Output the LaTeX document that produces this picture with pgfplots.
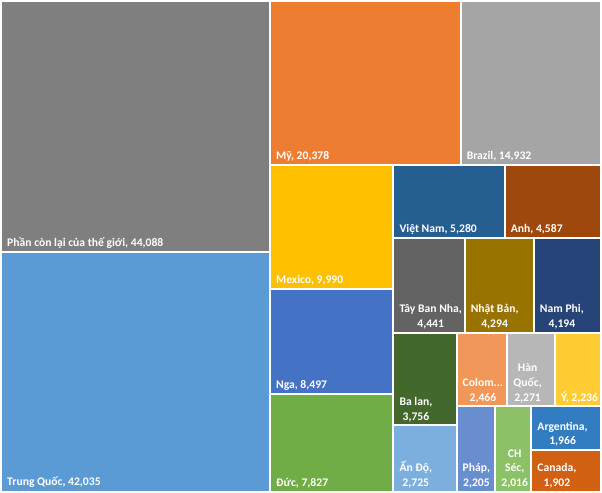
\documentclass[border=0pt]{standalone}
\usepackage{pgfplots}
\pgfplotsset{compat=1.18}
\usepackage{fontspec}
\setmainfont{Carlito}
\definecolor{cPhan}{HTML}{7F7F7F}
\definecolor{cTQ}{HTML}{5B9BD5}
\definecolor{cMy}{HTML}{ED7D31}
\definecolor{cBrazil}{HTML}{A5A5A5}
\definecolor{cMexico}{HTML}{FFC000}
\definecolor{cNga}{HTML}{4472C4}
\definecolor{cDuc}{HTML}{70AD47}
\definecolor{cVN}{HTML}{255E91}
\definecolor{cAnh}{HTML}{9E480E}
\definecolor{cTBN}{HTML}{636363}
\definecolor{cNhat}{HTML}{997300}
\definecolor{cNamPhi}{HTML}{264478}
\definecolor{cBaLan}{HTML}{43682B}
\definecolor{cAnDo}{HTML}{7CAFDD}
\definecolor{cColom}{HTML}{F1975A}
\definecolor{cHan}{HTML}{B7B7B7}
\definecolor{cY}{HTML}{FFCD33}
\definecolor{cPhap}{HTML}{698ED0}
\definecolor{cSec}{HTML}{8CC168}
\definecolor{cArg}{HTML}{327DC2}
\definecolor{cCan}{HTML}{D26012}
\newcommand{\rect}[6]{%
  \addplot[fill=#1, draw=white, line width=2pt, line join=miter] coordinates {(#2,#3) (#4,#3) (#4,#5) (#2,#5)} -- cycle;
  \node[lab] at (axis cs:#2+6,#5-3.5) {#6};
}
\begin{document}
\begin{tikzpicture}[lab/.style={anchor=south west, inner sep=0pt, text=white, font=\fontsize{11.6}{14.5}\selectfont\bfseries, align=center}]
\begin{axis}[
  scale only axis, width=602pt, height=494pt,
  xmin=0, xmax=602, ymin=0, ymax=494,
  y dir=reverse, hide axis, clip=false]
\rect{cPhan}{1}{1}{269}{251}{Phần còn lại của thế giới, 44,088}
\rect{cTQ}{1}{251}{269}{490}{Trung Quốc, 42,035}
\rect{cMy}{269}{1}{459}{164}{Mỹ, 20,378}
\rect{cBrazil}{459}{1}{599}{164}{Brazil, 14,932}
\rect{cMexico}{269}{164}{392}{288}{Mexico, 9,990}
\rect{cNga}{269}{288}{392}{393}{Nga, 8,497}
\rect{cDuc}{269}{393}{392}{490}{Đức, 7,827}
\rect{cVN}{392}{164}{503}{237}{Việt Nam, 5,280}
\rect{cAnh}{503}{164}{599}{237}{Anh, 4,587}
\rect{cTBN}{392}{237}{463}{331.5}{Tây Ban Nha,\\4,441}
\rect{cNhat}{463}{237}{532}{331.5}{Nhật Bản,\\4,294}
\rect{cNamPhi}{532}{237}{599}{331.5}{Nam Phi,\\4,194}
\rect{cBaLan}{392}{331.5}{455}{424}{Ba lan,\\3,756}
\rect{cAnDo}{392}{424}{455}{490}{Ấn Độ,\\2,725}
\rect{cColom}{455}{331.5}{505.5}{405}{Colom...\\2,466}
\rect{cHan}{505.5}{331.5}{553}{405}{Hàn\\Quốc,\\2,271}
\rect{cY}{553}{331.5}{599}{405}{Ý, 2,236}
\rect{cPhap}{455}{405}{493.5}{490}{Pháp,\\2,205}
\rect{cSec}{493.5}{405}{529.5}{490}{CH\\Séc,\\2,016}
\rect{cArg}{529.5}{405}{599}{448.5}{Argentina,\\1,966}
\rect{cCan}{529.5}{448.5}{599}{490}{Canada,\\1,902}
\end{axis}
\end{tikzpicture}
\end{document}
